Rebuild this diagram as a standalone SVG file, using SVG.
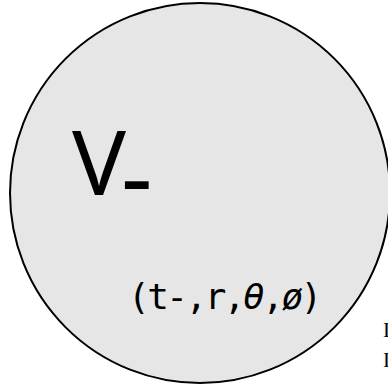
<svg xmlns="http://www.w3.org/2000/svg" width="388" height="385" viewBox="0 0 388 385">
<style>
.ball{fill:#e6e6e6;stroke:#000;stroke-width:2}
.big{font-family:"Noto Sans","DejaVu Sans",sans-serif;font-size:90px;fill:#000}
.co{font-family:"DejaVu Sans Mono","Liberation Mono",monospace;font-size:36px;letter-spacing:-2.5px;fill:#000}
.th{font-style:italic}
.side{font-family:"Liberation Serif",serif;font-size:21px;fill:#000}
</style>
<rect width="388" height="385" fill="#fff"/>
<g id="region">
<circle class="ball" cx="200" cy="193" r="190"/>
<text class="big" x="72" y="195">V<tspan x="121" y="212" font-size="98">-</tspan></text>
<text class="co" x="128" y="309">(t-,r,<tspan class="th">θ</tspan>,<tspan class="th">ø</tspan>)</text>
</g>
<g id="side">
<text class="side" x="383" y="337">I</text>
<text class="side" x="383" y="367">I</text>
</g>
</svg>
